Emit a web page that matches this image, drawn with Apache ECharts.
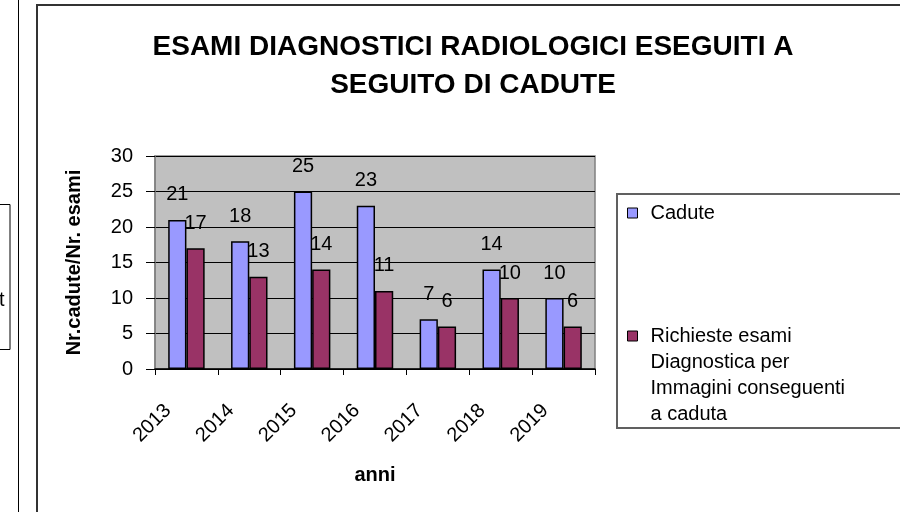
<!DOCTYPE html>
<html>
<head>
<meta charset="utf-8">
<script src="https://cdn.jsdelivr.net/npm/echarts@6/dist/echarts.min.js"></script>
<style>
html,body{margin:0;padding:0;background:#fff;}
#chart{width:900px;height:512px;}
</style>
</head>
<body>
<div id="chart"></div>
<script>
const titleText = "ESAMI DIAGNOSTICI RADIOLOGICI ESEGUITI A\nSEGUITO DI CADUTE";
const years = ["2013","2014","2015","2016","2017","2018","2019"];
const cadute = [21, 18, 25, 23, 7, 14, 10];
const richieste = [17, 13, 14, 11, 6, 10, 6];
const seriesNames = ["Cadute", "Richieste esami\nDiagnostica per\nImmagini conseguenti\na caduta"];
const yAxisName = "Nr.cadute/Nr. esami";
const xAxisName = "anni";

const FONT = "'Liberation Sans', Arial, sans-serif";
const chart = echarts.init(document.getElementById('chart'), null, {renderer: 'canvas'});

chart.setOption({
  animation: false,
  backgroundColor: '#ffffff',
  title: {
    text: titleText,
    left: 468,
    top: 23,
    textAlign: 'center',
    textStyle: {fontFamily: FONT, fontSize: 28, fontWeight: 'bold', color: '#000', lineHeight: 38}
  },
  graphic: [
    {type: 'line', shape: {x1: 18.5, y1: 0, x2: 18.5, y2: 512}, style: {stroke: '#000', lineWidth: 1}},
    {type: 'rect', shape: {x: -2, y: 204.5, width: 12, height: 145}, style: {fill: 'none', stroke: '#000', lineWidth: 1}},
    {type: 'text', left: -1, top: 290, style: {text: 't', font: '20px ' + FONT, fill: '#000'}},
    {type: 'rect', shape: {x: 37, y: 5, width: 880, height: 520}, style: {fill: 'none', stroke: '#333', lineWidth: 2}},
    {type: 'rect', shape: {x: 617, y: 194, width: 300, height: 234}, style: {fill: 'none', stroke: '#606060', lineWidth: 2}}
  ],
  legend: [
    {
      data: [seriesNames[0]],
      left: 627, top: 200, padding: 0,
      icon: 'rect', itemWidth: 10, itemHeight: 10,
      itemStyle: {borderColor: '#000', borderWidth: 1},
      textStyle: {fontFamily: FONT, fontSize: 20, color: '#000', lineHeight: 26, padding: [0, 0, 0, 8]}
    },
    {
      data: [seriesNames[1]],
      left: 627, top: 245, padding: 0,
      icon: 'rect', itemWidth: 10, itemHeight: 10,
      itemStyle: {borderColor: '#000', borderWidth: 1},
      formatter: function (name) { return '\n\n\n' + name; },
      textStyle: {fontFamily: FONT, fontSize: 20, color: '#000', lineHeight: 26, padding: [0, 0, 0, 8]}
    }
  ],
  grid: {
    left: 155, top: 156, right: 305, bottom: 143,
    show: true, backgroundColor: '#c0c0c0', borderColor: '#808080', borderWidth: 1.5
  },
  xAxis: {
    type: 'category',
    data: years,
    name: xAxisName,
    nameLocation: 'middle',
    nameGap: 96,
    nameTextStyle: {fontFamily: FONT, fontSize: 20, fontWeight: 'bold', color: '#000'},
    axisLine: {lineStyle: {color: '#000', width: 1.5}},
    axisTick: {show: true, length: 6, lineStyle: {color: '#000'}},
    axisLabel: {rotate: 45, margin: 20, fontFamily: FONT, fontSize: 20, color: '#000', padding: [0, 26, 0, 0]}
  },
  yAxis: {
    type: 'value',
    min: 0, max: 30, interval: 5,
    name: yAxisName,
    nameLocation: 'middle',
    nameGap: 71,
    nameTextStyle: {fontFamily: FONT, fontSize: 20, fontWeight: 'bold', color: '#000'},
    axisLine: {show: true, lineStyle: {color: '#808080', width: 1.5}},
    axisTick: {show: true, length: 9, lineStyle: {color: '#000'}},
    axisLabel: {margin: 22, fontFamily: FONT, fontSize: 20, color: '#000'},
    splitLine: {show: true, lineStyle: {color: '#000', width: 1}}
  },
  series: [
    {
      name: seriesNames[0], type: 'bar', data: cadute,
      barGap: '0%', barCategoryGap: '42%',
      itemStyle: {color: '#9999ff', borderColor: '#000', borderWidth: 1.5},
      label: {show: true, position: 'top', distance: 15, fontFamily: FONT, fontSize: 20, color: '#000'}
    },
    {
      name: seriesNames[1], type: 'bar', data: richieste,
      barGap: '0%', barCategoryGap: '42%',
      itemStyle: {color: '#993366', borderColor: '#000', borderWidth: 1.5},
      label: {show: true, position: 'top', distance: 15, fontFamily: FONT, fontSize: 20, color: '#000'}
    }
  ]
});
</script>
</body>
</html>
